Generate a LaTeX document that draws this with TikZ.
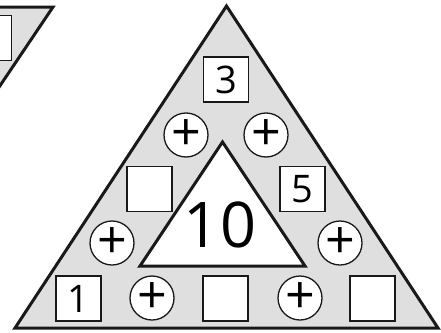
\documentclass[tikz,border=0pt]{standalone}
\usepackage{fontspec}
\setmainfont{Open Sans}
\begin{document}
\begin{tikzpicture}[x=1pt,y=-1pt,
  tri/.style={draw=black!90,line width=3pt,line join=miter,fill=gray!25},
  itri/.style={draw=black!90,line width=3pt,fill=white},
  sq/.style={draw=black!90,line width=1.3pt,fill=white,minimum size=45pt,inner sep=0pt,font=\fontsize{38}{38}\selectfont},
  pl/.style={draw=black!90,line width=1.3pt,fill=white,circle,minimum size=44pt,inner sep=0pt,font=\fontsize{52}{52}\selectfont}]
\useasboundingbox (0,0) rectangle (441,332);
\clip (0,0) rectangle (441,332);
% partial left triangle
\draw[tri] (-150,7) -- (53,7) -- (-50,160) -- cycle;
\node[sq,anchor=north east,minimum width=45pt,minimum height=45pt] (lb) at (12,15) {};
% big triangle
\draw[tri] (226.5,6) -- (438,328) -- (15,328) -- cycle;
\draw[itri] (222.5,142) -- (305,266) -- (140,266) -- cycle;
\node[font=\fontsize{63}{63}\selectfont] (ten) at (220,225) {10};
\node[sq] (b3) at (226,79.5) {3};
\node[sq] (bl) at (149.5,189) {};
\node[sq] (b5) at (302.5,189) {5};
\node[sq] (b1) at (78.5,298.5) {1};
\node[sq] (bm) at (225.5,298.5) {};
\node[sq] (br) at (372.5,298.5) {};
\node[pl] (p1) at (186,135) {+};
\node[pl] (p2) at (266,135) {+};
\node[pl] (p3) at (112,243) {+};
\node[pl] (p4) at (340,243) {+};
\node[pl] (p5) at (152,298) {+};
\node[pl] (p6) at (300,298) {+};
\end{tikzpicture}
\end{document}
